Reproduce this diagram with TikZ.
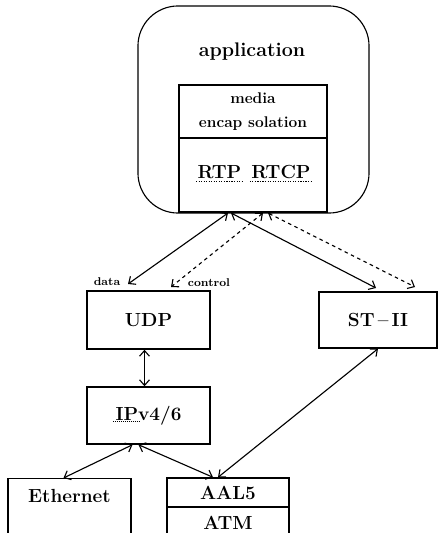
\documentclass[tikz,border=0pt]{standalone}
\usetikzlibrary{arrows.meta}
\begin{document}
\begin{tikzpicture}[x=0.025cm,y=-0.025cm,
    box/.style={draw,line width=1pt,inner sep=0pt},
    lbl/.style={font=\fontsize{13.5}{15}\selectfont\bfseries},
    tag/.style={font=\fontsize{8}{9}\selectfont\bfseries,inner sep=1pt},
    ctrl/.style={dash pattern=on 2.5pt off 2.5pt},
    link/.style={<->,thick},
    >={Straight Barb[length=4pt,width=7pt]}]
  \useasboundingbox (0,0) rectangle (440,533);
  \clip (0,0) rectangle (440,533);
  % application and its inner stack
  \node[box,thick,rounded corners=1cm,minimum width=5.775cm,minimum height=5.175cm] (app) at (253.5,109.5) {};
  \node[font=\fontsize{14}{16}\selectfont\bfseries] (apptext) at (252,52) {application};
  \node[box,minimum width=3.7cm,minimum height=1.325cm,align=center,
    font=\fontsize{11}{17}\selectfont\bfseries] (media) at (253,111.5) {media\\encap solation};
  \node[box,minimum width=3.7cm,minimum height=1.85cm] (rtpbox) at (253,175) {};
  \node[font=\fontsize{13.5}{16}\selectfont\bfseries,inner sep=1pt] (rtp) at (219.5,172) {RTP};
  \node[font=\fontsize{13.5}{16}\selectfont\bfseries,inner sep=1pt] (rtcp) at (281,172) {RTCP};
  \draw[densely dotted,thick] ([yshift=-2pt]rtp.base west) -- ([yshift=-2pt]rtp.base east);
  \draw[densely dotted,thick] ([yshift=-2pt]rtcp.base west) -- ([yshift=-2pt]rtcp.base east);
  % transport and network layers
  \node[box,lbl,minimum width=3.075cm,minimum height=1.45cm] (udp) at (148.5,320) {UDP};
  \node[box,lbl,minimum width=2.95cm,minimum height=1.4cm] (st) at (378,320) {ST\,--\,II};
  \node[box,lbl,minimum width=3.075cm,minimum height=1.425cm,inner sep=1pt] (ip) at (148.5,415.5) {IPv4/6};
  \draw[densely dotted] (113,421) -- (140,421);
  \node[box,anchor=north,minimum width=3.075cm,minimum height=2cm] (eth) at (69.5,478) {};
  \node[lbl] (ethtext) at (69.5,496) {Ethernet};
  \node[box,lbl,minimum width=3.05cm,minimum height=0.725cm] (aal5) at (228,492.5) {AAL5};
  \node[box,anchor=north,minimum width=3.05cm,minimum height=1.5cm] (atm) at (228,507) {};
  \node[lbl] (atmtext) at (228,523) {ATM};
  % arrow ends
  \coordinate (d0) at (228,213);
  \coordinate (d1) at (128,284);
  \coordinate (c0) at (263,213);
  \coordinate (c1) at (171,287);
  \coordinate (s0) at (231,213);
  \coordinate (s1) at (376,288);
  \coordinate (t0) at (268,213);
  \coordinate (t1) at (415,287);
  \node[tag] (data) at (107,282) {data};
  \node[tag] (control) at (209,283) {control};
  \begin{scope}[link]
    \draw (d0) -- (d1);
    \draw[ctrl] (c0) -- (c1);
    \draw (s0) -- (s1);
    \draw[ctrl] (t0) -- (t1);
    \draw ([xshift=-0.1cm]udp.south) -- ([xshift=-0.1cm]ip.north);
    \draw ([xshift=-0.4cm]ip.south) -- ([xshift=-0.15cm]eth.north);
    \draw ([xshift=-0.25cm]ip.south) -- ([xshift=-0.375cm]aal5.north);
    \draw (st.south) -- ([xshift=-0.25cm]aal5.north);
  \end{scope}
\end{tikzpicture}
\end{document}
